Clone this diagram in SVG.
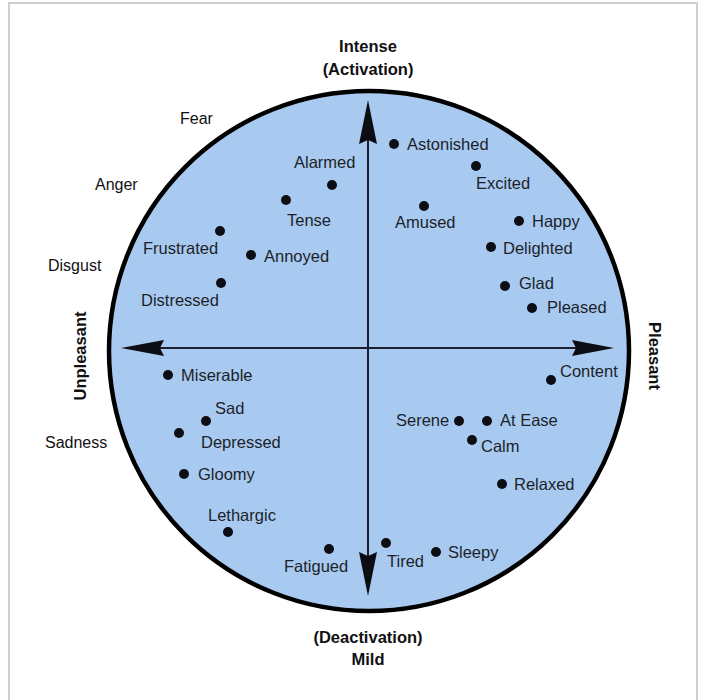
<svg xmlns="http://www.w3.org/2000/svg" width="704" height="700" viewBox="0 0 704 700">
<style>
.t{font-family:"Liberation Sans",Arial,sans-serif;font-size:16.5px;fill:#1c1f2a}
.o{font-family:"Liberation Sans",Arial,sans-serif;font-size:16px;fill:#111}
.b{font-family:"Liberation Sans",Arial,sans-serif;font-size:16.5px;font-weight:bold;fill:#111}
.d{fill:#0d0d14}
.ax{stroke:#1c2030;stroke-width:2;fill:none}
.ah{fill:#0d0d14}
</style>
<rect x="0" y="0" width="704" height="700" fill="#fff"/>
<rect x="9" y="3" width="688" height="702" fill="none" stroke="#cfcfcf" stroke-width="2"/>
<g id="circle"><circle cx="369" cy="351" r="260" fill="#a9caf0" stroke="#000" stroke-width="4.5"/></g>
<g id="connectors">
<line class="ax" x1="368" y1="130" x2="368" y2="570"/>
<line class="ax" x1="150" y1="348" x2="590" y2="348"/>
<path class="ah" d="M368,100 L377,144 L368,140 L359,144 Z"/>
<path class="ah" d="M368,596 L377,552 L368,556 L359,552 Z"/>
<path class="ah" d="M121,348 L164,340 L160,348 L164,356 Z"/>
<path class="ah" d="M614,348 L572,340 L576,348 L572,356 Z"/>
</g>
<g id="axis-top"><text class="b" x="368" y="52" text-anchor="middle">Intense</text><text class="b" x="368" y="75" text-anchor="middle">(Activation)</text></g>
<g id="axis-bottom"><text class="b" x="368" y="643" text-anchor="middle">(Deactivation)</text><text class="b" x="368" y="665" text-anchor="middle">Mild</text></g>
<g id="axis-left"><text class="b" x="0" y="0" text-anchor="middle" font-size="16" transform="translate(86,356) rotate(-90)">Unpleasant</text></g>
<g id="axis-right"><text class="b" x="0" y="0" text-anchor="middle" font-size="16" transform="translate(649,356) rotate(90)">Pleasant</text></g>
<g id="fear"><text class="o" x="180" y="124">Fear</text></g>
<g id="anger"><text class="o" x="95" y="190">Anger</text></g>
<g id="disgust"><text class="o" x="48" y="271">Disgust</text></g>
<g id="sadness"><text class="o" x="45" y="448">Sadness</text></g>
<g id="astonished"><circle class="d" cx="394" cy="144" r="5"/><text class="t" x="407" y="150">Astonished</text></g>
<g id="excited"><circle class="d" cx="476" cy="166" r="5"/><text class="t" x="476" y="189">Excited</text></g>
<g id="amused"><circle class="d" cx="424" cy="206" r="5"/><text class="t" x="395" y="228">Amused</text></g>
<g id="happy"><circle class="d" cx="519" cy="221" r="5"/><text class="t" x="532" y="227">Happy</text></g>
<g id="delighted"><circle class="d" cx="491" cy="247" r="5"/><text class="t" x="503" y="254">Delighted</text></g>
<g id="glad"><circle class="d" cx="505" cy="286" r="5"/><text class="t" x="519" y="289">Glad</text></g>
<g id="pleased"><circle class="d" cx="532" cy="308" r="5"/><text class="t" x="547" y="313">Pleased</text></g>
<g id="alarmed"><circle class="d" cx="332" cy="185" r="5"/><text class="t" x="294" y="168">Alarmed</text></g>
<g id="tense"><circle class="d" cx="286" cy="200" r="5"/><text class="t" x="287" y="226">Tense</text></g>
<g id="frustrated"><circle class="d" cx="220" cy="231" r="5"/><text class="t" x="143" y="254">Frustrated</text></g>
<g id="annoyed"><circle class="d" cx="251" cy="255" r="5"/><text class="t" x="264" y="262">Annoyed</text></g>
<g id="distressed"><circle class="d" cx="221" cy="283" r="5"/><text class="t" x="141" y="306">Distressed</text></g>
<g id="miserable"><circle class="d" cx="168" cy="375" r="5"/><text class="t" x="181" y="381">Miserable</text></g>
<g id="sad"><circle class="d" cx="206" cy="421" r="5"/><text class="t" x="215" y="414">Sad</text></g>
<g id="depressed"><circle class="d" cx="179" cy="433" r="5"/><text class="t" x="201" y="448">Depressed</text></g>
<g id="gloomy"><circle class="d" cx="184" cy="474" r="5"/><text class="t" x="198" y="480">Gloomy</text></g>
<g id="lethargic"><circle class="d" cx="228" cy="532" r="5"/><text class="t" x="208" y="521">Lethargic</text></g>
<g id="fatigued"><circle class="d" cx="329" cy="549" r="5"/><text class="t" x="284" y="572">Fatigued</text></g>
<g id="tired"><circle class="d" cx="386" cy="543" r="5"/><text class="t" x="387" y="567">Tired</text></g>
<g id="sleepy"><circle class="d" cx="436" cy="552" r="5"/><text class="t" x="448" y="558">Sleepy</text></g>
<g id="content"><circle class="d" cx="551" cy="380" r="5"/><text class="t" x="560" y="377">Content</text></g>
<g id="serene"><circle class="d" cx="459" cy="421" r="5"/><text class="t" x="396" y="426">Serene</text></g>
<g id="at-ease"><circle class="d" cx="487" cy="421" r="5"/><text class="t" x="500" y="426">At Ease</text></g>
<g id="calm"><circle class="d" cx="472" cy="440" r="5"/><text class="t" x="481" y="452">Calm</text></g>
<g id="relaxed"><circle class="d" cx="502" cy="484" r="5"/><text class="t" x="514" y="490">Relaxed</text></g>
</svg>
